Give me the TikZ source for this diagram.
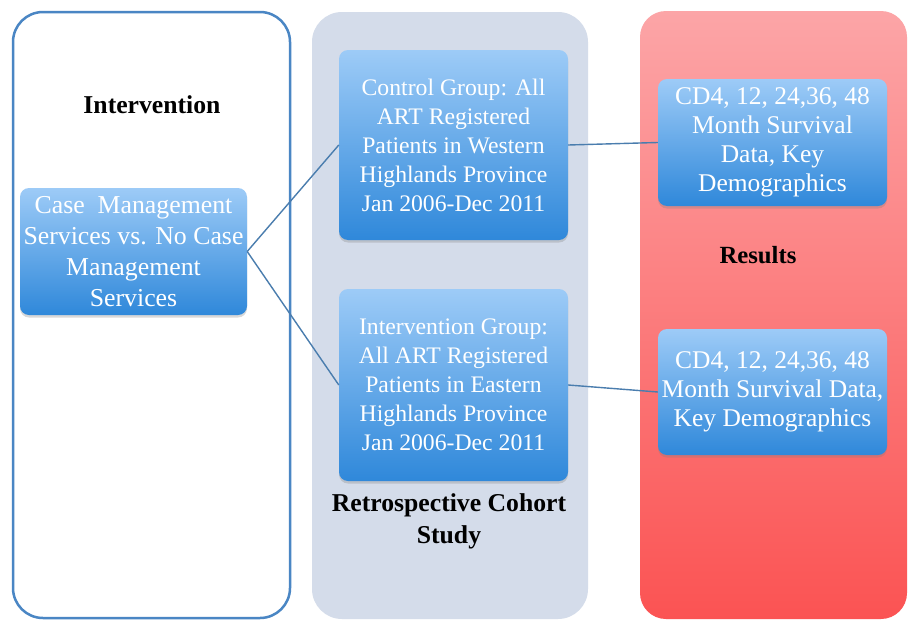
\documentclass[tikz,border=0pt]{standalone}
\usepackage{fontspec}
\setmainfont{Liberation Serif}
\usetikzlibrary{shadows}
\definecolor{panelblue}{HTML}{4A86C4}
\definecolor{midfill}{HTML}{D4DCEA}
\definecolor{redtop}{HTML}{FCA5A7}
\definecolor{redbot}{HTML}{FB5353}
\definecolor{boxtop}{HTML}{9DCBF7}
\definecolor{boxbot}{HTML}{2F88DA}
\definecolor{linkcol}{HTML}{4A7DAE}
\tikzset{
  bluebox/.style={rectangle, rounded corners=9pt, top color=boxtop, bottom color=boxbot,
    draw=none, text=white, align=center, inner sep=0pt,
    drop shadow={opacity=0.3, shadow xshift=0pt, shadow yshift=-2.5pt}},
  heading/.style={font=\bfseries\fontsize{25.7}{32}\selectfont, align=center, text=black},
  link/.style={draw=linkcol, line width=1.4pt}
}
\begin{document}
\begin{tikzpicture}[x=1pt,y=-1pt]
\useasboundingbox (0,0) rectangle (908,621);
\fill[white] (0,0) rectangle (908,621);
% panels
\draw[panelblue, line width=2.5pt, fill=white, rounded corners=30pt] (13,12) rectangle (290,618);
\fill[midfill, rounded corners=30pt] (312,12) rectangle (588,619);
\shade[rounded corners=26pt, top color=redtop, bottom color=redbot] (640,11) rectangle (907,619);
% headings
\node[heading] (hint) at (152,105) {Intervention};
\node[heading] (hret) at (449,521) {Retrospective Cohort\\Study};
\node[heading, font=\bfseries\fontsize{24.7}{30}\selectfont] (hres) at (758,255) {Results};
% boxes
\node[bluebox, minimum width=227pt, minimum height=127pt, font=\fontsize{25.8}{31}\selectfont]
  (case) at (133.5,251.5) {Case\ \ Management\\Services vs. No Case\\Management\\Services};
\node[bluebox, minimum width=229pt, minimum height=190pt, font=\fontsize{23.7}{29}\selectfont]
  (ctrl) at (453.5,145) {Control Group: All\\ART Registered\\Patients in Western\\Highlands Province\\Jan 2006-Dec 2011};
\node[bluebox, minimum width=229pt, minimum height=192pt, font=\fontsize{23.7}{29}\selectfont]
  (intv) at (453.5,385) {Intervention Group:\\All ART Registered\\Patients in Eastern\\Highlands Province\\Jan 2006-Dec 2011};
\node[bluebox, minimum width=229pt, minimum height=127pt, font=\fontsize{25.5}{29}\selectfont]
  (res1) at (772.5,142.5) {CD4, 12, 24,36, 48\\Month Survival\\Data, Key\\Demographics};
\node[bluebox, minimum width=229pt, minimum height=126pt, font=\fontsize{25.5}{29}\selectfont]
  (res2) at (772.5,392) {CD4, 12, 24,36, 48\\Month Survival Data,\\Key Demographics};
% connectors
\draw[link] (case.east) -- (ctrl.west);
\draw[link] (case.east) -- (intv.west);
\draw[link] (ctrl.east) -- (res1.west);
\draw[link] (intv.east) -- (res2.west);
\end{tikzpicture}
\end{document}
